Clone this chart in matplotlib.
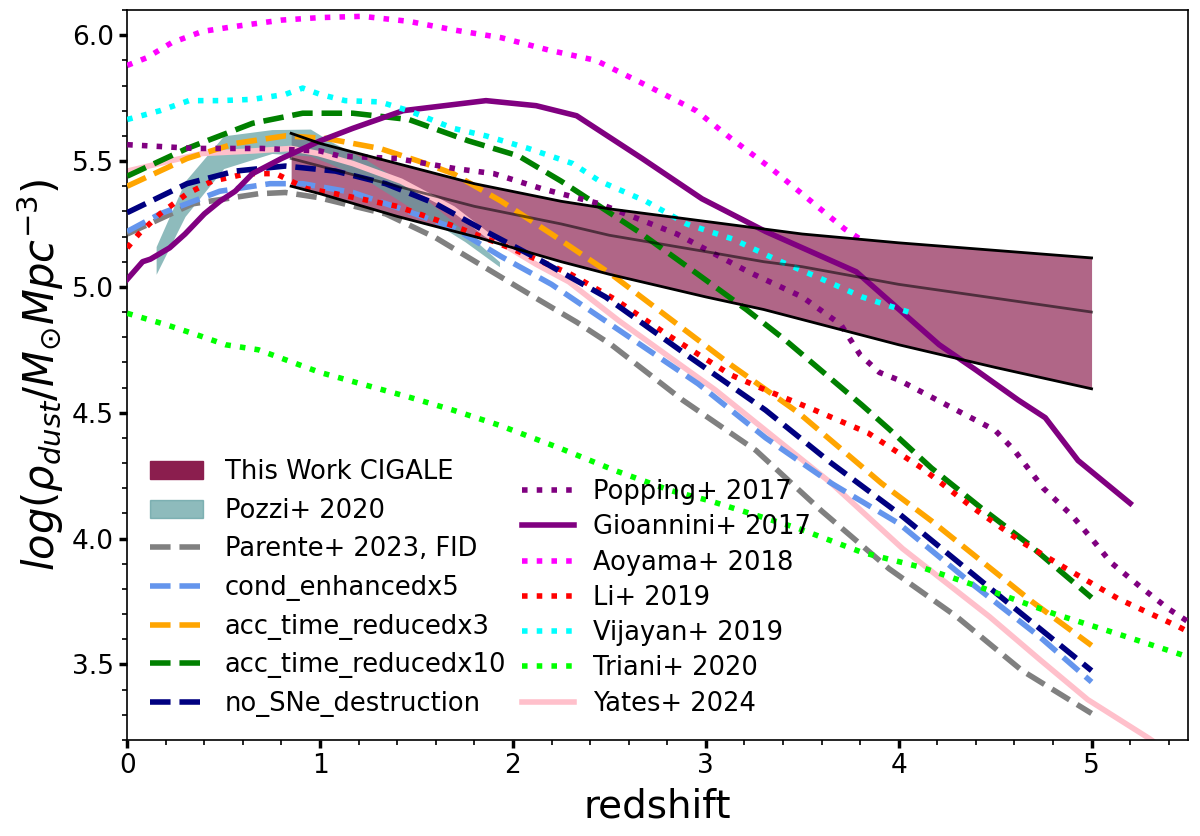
import numpy as np
import matplotlib
matplotlib.use("Agg")
import matplotlib.pyplot as plt
from matplotlib.patches import Patch
from matplotlib.lines import Line2D

# ---------------- data ----------------
# This Work CIGALE band
cig_z = [0.85, 1.0, 1.4, 1.8, 2.25, 2.5, 3.0, 3.3, 3.5, 4.0, 4.5, 5.0]
cig_up = [5.61, 5.57, 5.49, 5.41, 5.34, 5.31, 5.26, 5.23, 5.21, 5.175, 5.145, 5.115]
cig_mid = [5.51, 5.48, 5.40, 5.32, 5.25, 5.205, 5.14, 5.10, 5.08, 5.01, 4.955, 4.90]
cig_lo = [5.40, 5.37, 5.28, 5.20, 5.10, 5.05, 4.96, 4.91, 4.87, 4.77, 4.68, 4.595]

# Pozzi+ 2020 band
poz_z = [0.15, 0.3, 0.5, 0.75, 0.95, 1.05, 1.25, 1.5, 1.75, 1.93]
poz_lo = [5.05, 5.28, 5.47, 5.53, 5.52, 5.49, 5.42, 5.30, 5.18, 5.08]
poz_up = [5.16, 5.42, 5.60, 5.625, 5.627, 5.58, 5.50, 5.38, 5.22, 5.10]

# Parente+ 2023 models
par_z = [0, 0.34, 0.68, 0.82, 0.99, 1.34, 1.6, 1.86, 2.12, 2.33, 2.51, 2.88, 3.26, 3.6, 3.95, 4.3, 4.64, 5.0]
par_fid = [5.21, 5.33, 5.37, 5.375, 5.355, 5.29, 5.195, 5.075, 4.955, 4.86, 4.77, 4.55, 4.35, 4.11, 3.88, 3.69, 3.475, 3.305]

cond_z = [0, 0.17, 0.48, 0.74, 0.91, 1.17, 1.42, 1.69, 1.94, 2.2, 2.45, 2.96, 3.31, 3.65, 4.0, 4.38, 4.73, 5.0]
cond_v = [5.22, 5.29, 5.38, 5.41, 5.41, 5.375, 5.31, 5.235, 5.12, 5.01, 4.88, 4.615, 4.40, 4.22, 4.06, 3.82, 3.61, 3.43]

acc3_z = [0, 0.31, 0.56, 0.82, 1.03, 1.31, 1.51, 1.69, 1.94, 2.2, 2.51, 2.76, 3.13, 3.48, 3.91, 4.17, 4.43, 4.69, 5.0]
acc3_v = [5.40, 5.51, 5.57, 5.60, 5.59, 5.55, 5.50, 5.45, 5.34, 5.21, 5.05, 4.905, 4.69, 4.50, 4.22, 4.07, 3.91, 3.75, 3.575]

acc10_z = [0, 0.31, 0.65, 0.91, 1.17, 1.46, 1.77, 2.03, 2.25, 2.45, 2.65, 2.95, 3.21, 3.41, 3.81, 3.95, 4.17, 4.43, 4.67, 5.0]
acc10_v = [5.44, 5.55, 5.65, 5.69, 5.69, 5.665, 5.58, 5.52, 5.42, 5.32, 5.22, 5.055, 4.91, 4.79, 4.53, 4.435, 4.28, 4.12, 3.98, 3.765]

nosn_z = [0, 0.31, 0.56, 0.82, 1.08, 1.34, 1.6, 1.86, 2.12, 2.48, 2.9, 3.31, 3.65, 4.0, 4.47, 5.0]
nosn_v = [5.295, 5.41, 5.46, 5.48, 5.46, 5.41, 5.33, 5.22, 5.115, 4.96, 4.73, 4.51, 4.30, 4.10, 3.805, 3.475]

# literature
pop_z = [0, 0.35, 0.7, 1.0, 1.1, 1.4, 1.7, 1.9, 2.15, 2.45, 2.85, 3.22, 3.5, 3.7, 3.8, 3.9, 4.0, 4.15, 4.35, 4.5, 4.6, 4.75, 4.9, 5.0, 5.1, 5.25, 5.4, 5.5]
pop_v = [5.565, 5.55, 5.55, 5.54, 5.52, 5.51, 5.47, 5.45, 5.39, 5.33, 5.21, 5.06, 4.96, 4.85, 4.73, 4.66, 4.63, 4.57, 4.49, 4.43, 4.35, 4.20, 4.09, 4.0, 3.905, 3.81, 3.72, 3.67]

gio_z = [0.0, 0.08, 0.12, 0.22, 0.3, 0.4, 0.48, 0.56, 0.65, 0.8, 1.0, 1.17, 1.43, 1.86, 2.12, 2.33, 2.45, 2.67, 2.98, 3.31, 3.78, 4.21, 4.4, 4.62, 4.76, 4.93, 5.2]
gio_v = [5.03, 5.10, 5.11, 5.155, 5.21, 5.29, 5.34, 5.38, 5.45, 5.51, 5.58, 5.63, 5.70, 5.74, 5.72, 5.68, 5.62, 5.51, 5.35, 5.22, 5.06, 4.77, 4.67, 4.55, 4.48, 4.31, 4.14]

aoy_z = [0, 0.1, 0.23, 0.39, 0.56, 0.8, 1.0, 1.22, 1.46, 1.7, 1.94, 2.19, 2.43, 2.72, 2.95, 3.13, 3.34, 3.53, 3.72, 3.8]
aoy_v = [5.88, 5.91, 5.97, 6.015, 6.035, 6.06, 6.07, 6.075, 6.055, 6.02, 5.99, 5.94, 5.90, 5.79, 5.70, 5.59, 5.47, 5.35, 5.23, 5.19]

li_z = [0, 0.06, 0.17, 0.31, 0.44, 0.62, 0.77, 0.93, 1.08, 1.4, 1.7, 2.0, 2.3, 2.53, 2.8, 3.13, 3.31, 3.55, 3.84, 4.12, 4.38, 4.64, 4.87, 5.14, 5.45, 5.5]
li_v = [5.155, 5.21, 5.29, 5.37, 5.42, 5.45, 5.45, 5.39, 5.37, 5.32, 5.24, 5.15, 5.05, 4.95, 4.81, 4.65, 4.59, 4.515, 4.42, 4.28, 4.125, 3.985, 3.88, 3.76, 3.65, 3.63]

vij_z = [0, 0.17, 0.32, 0.48, 0.65, 0.82, 0.91, 1.0, 1.13, 1.31, 1.46, 1.69, 1.86, 2.08, 2.31, 2.45, 2.69, 2.9, 3.14, 3.36, 3.59, 3.81, 4.05]
vij_v = [5.665, 5.70, 5.74, 5.74, 5.745, 5.765, 5.79, 5.765, 5.74, 5.735, 5.70, 5.63, 5.60, 5.55, 5.49, 5.42, 5.34, 5.25, 5.19, 5.11, 5.035, 4.96, 4.90]

tri_z = [0, 0.2, 0.36, 0.51, 0.68, 1.0, 1.47, 1.69, 1.93, 2.24, 2.53, 2.82, 3.02, 3.48, 3.81, 4.12, 4.43, 4.81, 5.14, 5.5]
tri_v = [4.895, 4.85, 4.81, 4.77, 4.75, 4.66, 4.56, 4.51, 4.45, 4.36, 4.27, 4.19, 4.15, 4.04, 3.945, 3.885, 3.805, 3.70, 3.62, 3.53]

yat_z = [0, 0.22, 0.39, 0.65, 0.85, 0.99, 1.17, 1.42, 1.69, 1.86, 2.12, 2.29, 2.55, 3.05, 3.65, 4.02, 4.47, 4.73, 4.98, 5.3, 5.4]
yat_v = [5.46, 5.50, 5.53, 5.54, 5.55, 5.53, 5.49, 5.42, 5.31, 5.21, 5.09, 5.02, 4.865, 4.59, 4.22, 3.96, 3.69, 3.52, 3.36, 3.205, 3.15]

# ---------------- plot ----------------
fig = plt.figure(figsize=(12, 8.36), dpi=100)
ax = fig.add_axes([0.106, 0.115, 0.884, 0.873])

cig_col = '#8B1E4E'
poz_col = 'cadetblue'
lw = 4

ax.fill_between(cig_z, cig_lo, cig_up, color=cig_col, alpha=0.68, lw=0, zorder=1)
ax.plot(cig_z, cig_up, color='black', lw=2, zorder=6)
ax.plot(cig_z, cig_lo, color='black', lw=2, zorder=6)
ax.plot(cig_z, cig_mid, color='black', lw=2, alpha=0.55, zorder=6)
ax.fill_between(poz_z, poz_lo, poz_up, color=poz_col, alpha=0.7, lw=0, zorder=1.5)

ax.plot(par_z, par_fid, color='grey', ls='--', lw=lw, zorder=3)
ax.plot(cond_z, cond_v, color='cornflowerblue', ls='--', lw=lw, zorder=3)
ax.plot(acc3_z, acc3_v, color='orange', ls='--', lw=lw, zorder=3)
ax.plot(acc10_z, acc10_v, color='green', ls='--', lw=lw, zorder=3)
ax.plot(yat_z, yat_v, color='pink', ls='-', lw=lw, zorder=2.5)
ax.plot(li_z, li_v, color='red', ls=':', lw=lw, zorder=3)
ax.plot(nosn_z, nosn_v, color='navy', ls='--', lw=lw, zorder=3)
ax.plot(pop_z, pop_v, color='purple', ls=':', lw=lw, zorder=3)
ax.plot(gio_z, gio_v, color='purple', ls='-', lw=lw, zorder=3)
ax.plot(aoy_z, aoy_v, color='magenta', ls=':', lw=lw, zorder=3)
ax.plot(vij_z, vij_v, color='cyan', ls=':', lw=lw, zorder=3)
ax.plot(tri_z, tri_v, color='lime', ls=':', lw=lw, zorder=3)

ax.set_xlim(0, 5.5)
ax.set_ylim(3.2, 6.1)
ax.set_xticks([0, 1, 2, 3, 4, 5])
ax.set_yticks([3.5, 4.0, 4.5, 5.0, 5.5, 6.0])
ax.minorticks_on()
ax.tick_params(which='major', labelsize=19, length=6, width=2.5)
ax.tick_params(which='minor', length=3.5, width=1.2)
for s in ax.spines.values():
    s.set_linewidth(1.2)
ax.set_xlabel('redshift', fontsize=28, labelpad=6)
ax.set_ylabel(r'$log(\rho_{dust}/M_{\odot}Mpc^{-3})$', fontsize=30, labelpad=4)

h1 = [Patch(color=cig_col, label='This Work CIGALE'),
      Patch(color=poz_col, alpha=0.7, label='Pozzi+ 2020'),
      Line2D([], [], color='grey', ls='--', lw=lw, label='Parente+ 2023, FID'),
      Line2D([], [], color='cornflowerblue', ls='--', lw=lw, label='cond_enhancedx5'),
      Line2D([], [], color='orange', ls='--', lw=lw, label='acc_time_reducedx3'),
      Line2D([], [], color='green', ls='--', lw=lw, label='acc_time_reducedx10'),
      Line2D([], [], color='navy', ls='--', lw=lw, label='no_SNe_destruction')]
h2 = [Line2D([], [], color='purple', ls=':', lw=lw, label='Popping+ 2017'),
      Line2D([], [], color='purple', ls='-', lw=lw, label='Gioannini+ 2017'),
      Line2D([], [], color='magenta', ls=':', lw=lw, label='Aoyama+ 2018'),
      Line2D([], [], color='red', ls=':', lw=lw, label='Li+ 2019'),
      Line2D([], [], color='cyan', ls=':', lw=lw, label='Vijayan+ 2019'),
      Line2D([], [], color='lime', ls=':', lw=lw, label='Triani+ 2020'),
      Line2D([], [], color='pink', ls='-', lw=lw, label='Yates+ 2024')]

leg1 = ax.legend(handles=h1, loc='lower left', bbox_to_anchor=(0.0, 0.0),
                 frameon=False, fontsize=18.5, handlelength=2.05, handletextpad=0.85,
                 labelspacing=0.49)
ax.add_artist(leg1)
ax.legend(handles=h2, loc='lower left', bbox_to_anchor=(0.3506, 0.0),
          frameon=False, fontsize=18.5, handlelength=2.0, handletextpad=0.75,
          labelspacing=0.36)

fig.savefig('out.png', dpi=100)
